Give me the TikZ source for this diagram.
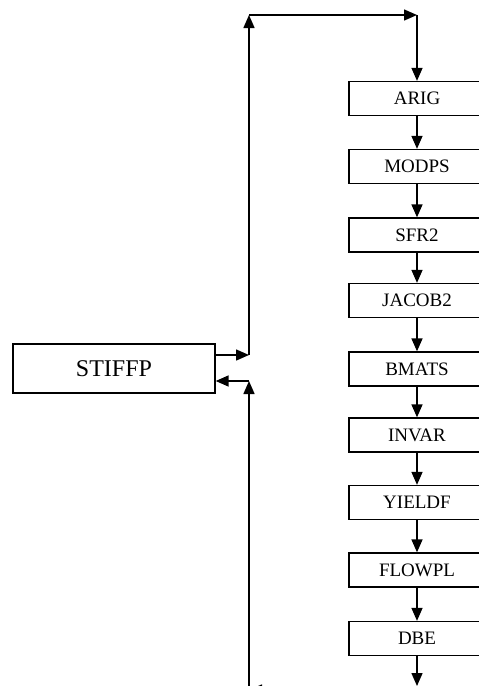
\documentclass[tikz,border=0pt]{standalone}
\usepackage{fontspec}
\setmainfont{Liberation Serif}
\usetikzlibrary{arrows.meta}
\begin{document}
\begin{tikzpicture}[x=1pt,y=-1pt,
  box/.style={draw,line width=1.3pt,rectangle,inner sep=0pt,minimum width=136pt,minimum height=34pt,font=\fontsize{19}{20}\selectfont},
  bigbox/.style={draw,line width=1.3pt,rectangle,inner sep=0pt,minimum width=202pt,minimum height=49pt,font=\fontsize{24}{26}\selectfont},
  flow/.style={line width=1.5pt,-{Triangle[length=13pt,width=11pt]}}]
\useasboundingbox (0,0) rectangle (479,686);
\node[bigbox] (st) at (114,368.5) {STIFFP};
\node[box] (b1) at (417,98.5) {ARIG};
\node[box] (b2) at (417,166.5) {MODPS};
\node[box] (b3) at (417,235) {SFR2};
\node[box] (b4) at (417,300.5) {JACOB2};
\node[box] (b5) at (417,369) {BMATS};
\node[box] (b6) at (417,435) {INVAR};
\node[box] (b7) at (417,502.5) {YIELDF};
\node[box] (b8) at (417,570) {FLOWPL};
\node[box] (b9) at (417,638.5) {DBE};
\coordinate (oa) at (249,355);
\coordinate (ob) at (249,15);
\coordinate (oc) at (417,15);
\coordinate (ra) at (249,381);
\coordinate (rb) at (249,690);
\coordinate (rc) at (417,690);
\coordinate (bend) at (417,686);
\draw[flow] (st.east |- oa) -- (oa);
\draw[flow] (oa) -- (ob);
\draw[flow] (ob) -- (oc);
\draw[flow] (oc) -- (b1.north);
\foreach \a/\b in {b1/b2,b2/b3,b3/b4,b4/b5,b5/b6,b6/b7,b7/b8,b8/b9}
  \draw[flow] (\a.south) -- (\b.north);
\draw[flow] (b9.south) -- (bend);
\draw[flow] (rc) -- (rb);
\draw[flow] (rb) -- (ra);
\draw[flow] (ra) -- (st.east |- ra);
\end{tikzpicture}
\end{document}
